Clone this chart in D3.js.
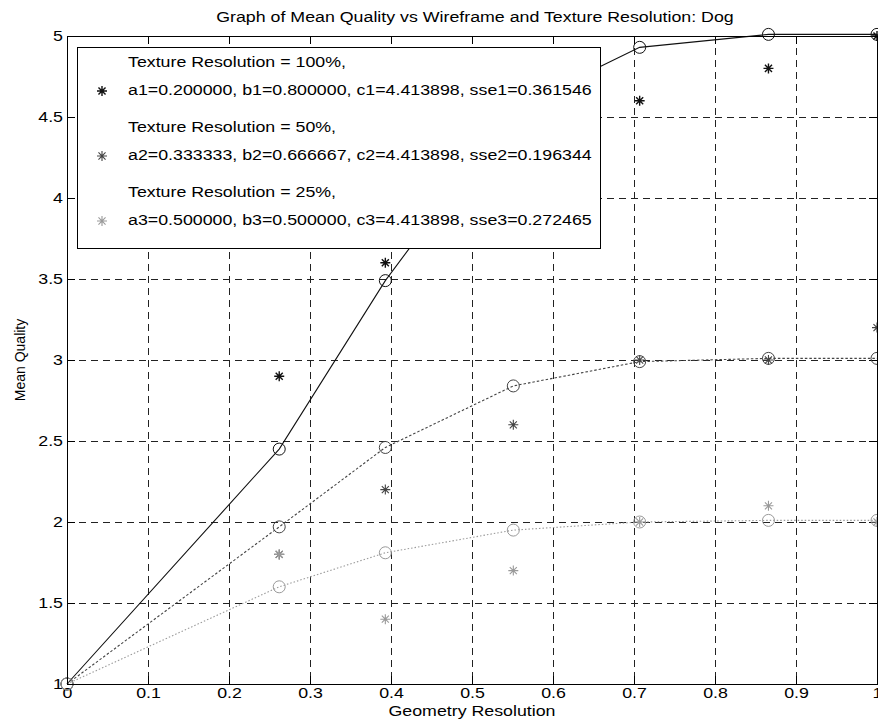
<!DOCTYPE html>
<html>
<head>
<meta charset="utf-8">
<script src="https://cdn.jsdelivr.net/npm/d3@7/dist/d3.min.js"></script>
<style>
  html, body { margin: 0; padding: 0; background: #fff; }
  svg { display: block; }
  text { font-family: "Liberation Sans", Arial, Helvetica, sans-serif; fill: #000; }
  .crisp line, .crisp rect, rect.crisp { shape-rendering: crispEdges; }
</style>
</head>
<body>
<svg id="chart" width="878" height="725"></svg>
<script>
// Geometry resolution levels (shared x positions)
const geometry = [0, 0.262, 0.393, 0.551, 0.707, 0.866, 1.0];

// Fitted mean quality per texture resolution (drawn as circles joined by lines)
const fit100 = [1, 2.45, 3.49, 4.55, 4.93, 5.01, 5.01];
const fit50  = [1, 1.97, 2.46, 2.84, 2.99, 3.01, 3.01];
const fit25  = [1, 1.60, 1.81, 1.95, 2.00, 2.01, 2.01];

// Measured mean quality (asterisks), at the non-zero geometry levels
const measuredGeometry = [0.262, 0.393, 0.551, 0.707, 0.866, 1.0];
const measured100 = [2.9, 3.6, 4.5, 4.6, 4.8, 5.0];
const measured50  = [1.8, 2.2, 2.6, 3.0, 3.0, 3.2];
const measured25  = [1.8, 1.4, 1.7, 2.0, 2.1, 2.0];

// Legend entries
const legendTitles = [
  "Texture Resolution = 100%,",
  "Texture Resolution = 50%,",
  "Texture Resolution = 25%,"
];
const legendParams = [
  "a1=0.200000, b1=0.800000, c1=4.413898, sse1=0.361546",
  "a2=0.333333, b2=0.666667, c2=4.413898, sse2=0.196344",
  "a3=0.500000, b3=0.500000, c3=4.413898, sse3=0.272465"
];

const xTicks = [0, 0.1, 0.2, 0.3, 0.4, 0.5, 0.6, 0.7, 0.8, 0.9, 1];
const yTicks = [1, 1.5, 2, 2.5, 3, 3.5, 4, 4.5, 5];

const seriesStyle = [
  { color: "#111", dash: null,  width: 1.1 },
  { color: "#444", dash: "2.5,2", width: 1.1 },
  { color: "#9a9a9a", dash: "1.5,2", width: 1.1 }
];

const svg = d3.select("#chart");
const plotLeft = 67, plotRight = 877, plotTop = 36, plotBottom = 684;
const FONT = 14;      // base text size
const WIDEN = 1.27;   // horizontal widening applied to all horizontal text

const x = d3.scaleLinear().domain([0, 1]).range([plotLeft, plotRight]);
const y = d3.scaleLinear().domain([1, 5]).range([plotBottom, plotTop]);

// Stretch horizontal text glyphs sideways by WIDEN
function widen(sel) {
  sel.each(function () {
    const w = this.getComputedTextLength();
    if (w > 0) {
      d3.select(this).attr("textLength", w * WIDEN).attr("lengthAdjust", "spacingAndGlyphs");
    }
  });
}

// Grid
const grid = svg.append("g").attr("class", "crisp").attr("stroke", "#222").attr("stroke-width", 1)
  .attr("stroke-dasharray", "7,5").attr("fill", "none");
grid.selectAll("line.v").data(xTicks.slice(1, -1)).join("line")
  .attr("class", "v")
  .attr("x1", d => x(d)).attr("x2", d => x(d)).attr("y1", plotTop).attr("y2", plotBottom);
grid.selectAll("line.h").data(yTicks.slice(1, -1)).join("line")
  .attr("class", "h")
  .attr("y1", d => y(d)).attr("y2", d => y(d)).attr("x1", plotLeft).attr("x2", plotRight);

// Axes with inward ticks on all four sides
const axisFont = g => g.selectAll("text").style("font-size", FONT + "px")
  .style("font-family", "'Liberation Sans', Arial, sans-serif");
const tickLen = 8;

svg.append("g").attr("class", "crisp").attr("transform", `translate(0,${plotBottom})`)
  .call(d3.axisBottom(x).tickValues(xTicks).tickFormat(d3.format("~g"))
    .tickSizeInner(-tickLen).tickSizeOuter(0).tickPadding(4))
  .call(g => g.select(".domain").remove())
  .call(axisFont)
  .call(g => g.selectAll("text").call(widen));
svg.append("g").attr("class", "crisp").attr("transform", `translate(0,${plotTop})`)
  .call(d3.axisTop(x).tickValues(xTicks).tickFormat("")
    .tickSizeInner(-tickLen).tickSizeOuter(0))
  .call(g => g.select(".domain").remove());
svg.append("g").attr("class", "crisp").attr("transform", `translate(${plotLeft},0)`)
  .call(d3.axisLeft(y).tickValues(yTicks).tickFormat(d3.format("~g"))
    .tickSizeInner(-tickLen).tickSizeOuter(0).tickPadding(4))
  .call(g => g.select(".domain").remove())
  .call(axisFont)
  .call(g => g.selectAll("text").call(widen));
svg.append("g").attr("class", "crisp").attr("transform", `translate(${plotRight},0)`)
  .call(d3.axisRight(y).tickValues(yTicks).tickFormat("")
    .tickSizeInner(-tickLen).tickSizeOuter(0))
  .call(g => g.select(".domain").remove());

// Asterisk marker path ('*': plus and cross)
function asterisk(r) {
  const d = r * Math.SQRT1_2;
  return `M${-r},0L${r},0M0,${-r}L0,${r}M${-d},${-d}L${d},${d}M${-d},${d}L${d},${-d}`;
}

const fits = [fit100, fit50, fit25];
const measured = [measured100, measured50, measured25];

const line = d3.line().x(d => x(d[0])).y(d => y(d[1]));

fits.forEach((f, i) => {
  const st = seriesStyle[i];
  const pts = geometry.map((g, k) => [g, f[k]]);
  svg.append("path").datum(pts).attr("d", line)
    .attr("fill", "none").attr("stroke", st.color).attr("stroke-width", st.width)
    .attr("stroke-dasharray", st.dash);
  svg.append("g").selectAll("circle").data(pts).join("circle")
    .attr("cx", d => x(d[0])).attr("cy", d => y(d[1])).attr("r", 6)
    .attr("fill", "none").attr("stroke", st.color).attr("stroke-width", 1);
});

measured.forEach((m, i) => {
  const st = seriesStyle[i];
  svg.append("g").selectAll("path").data(measuredGeometry.map((g, k) => [g, m[k]])).join("path")
    .attr("transform", d => `translate(${x(d[0])},${y(d[1])})`)
    .attr("d", asterisk(5)).attr("fill", "none")
    .attr("stroke", st.color).attr("stroke-width", i === 0 ? 1.4 : 1.1);
});

// Plot frame
svg.append("rect").attr("class", "crisp").attr("x", plotLeft).attr("y", plotTop)
  .attr("width", plotRight - plotLeft).attr("height", plotBottom - plotTop)
  .attr("fill", "none").attr("stroke", "#000").attr("stroke-width", 1);

// Legend box
const lg = svg.append("g");
lg.append("rect").attr("class", "crisp").attr("x", 77).attr("y", 47).attr("width", 523).attr("height", 201)
  .attr("fill", "#fff").attr("stroke", "#000").attr("stroke-width", 1);
legendTitles.forEach((t, i) => {
  const y0 = 62 + i * 65;
  lg.append("text").attr("x", 128).attr("y", y0).attr("dy", "0.35em")
    .style("font-size", FONT + "px").text(t).call(widen);
  lg.append("text").attr("x", 128).attr("y", y0 + 28).attr("dy", "0.35em")
    .style("font-size", FONT + "px").text(legendParams[i]).call(widen);
  lg.append("path").attr("transform", `translate(102,${y0 + 29})`)
    .attr("d", asterisk(5)).attr("fill", "none")
    .attr("stroke", seriesStyle[i].color).attr("stroke-width", i === 0 ? 1.4 : 1.1);
});

// Titles
svg.append("text").attr("x", 475).attr("y", 17).attr("dy", "0.35em")
  .attr("text-anchor", "middle").style("font-size", FONT + "px")
  .text("Graph of Mean Quality vs Wireframe and Texture Resolution: Dog").call(widen);
svg.append("text").attr("x", (plotLeft + plotRight) / 2).attr("y", 711).attr("dy", "0.35em")
  .attr("text-anchor", "middle").style("font-size", FONT + "px")
  .text("Geometry Resolution").call(widen);
svg.append("text").attr("transform", `translate(20,${(plotTop + plotBottom) / 2}) rotate(-90)`)
  .attr("dy", "0.35em").attr("text-anchor", "middle").style("font-size", FONT + "px")
  .text("Mean Quality");
</script>
</body>
</html>
